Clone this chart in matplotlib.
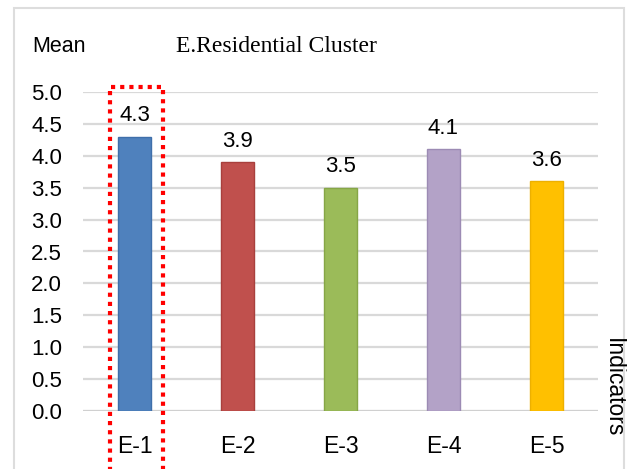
import numpy as np
import matplotlib.pyplot as plt
from matplotlib.patches import Rectangle

# Mean score per indicator of the residential cluster
indicators = ['E-1', 'E-2', 'E-3', 'E-4', 'E-5']
means = [4.3, 3.9, 3.5, 4.1, 3.6]
yticks = [0.0, 0.5, 1.0, 1.5, 2.0, 2.5, 3.0, 3.5, 4.0, 4.5, 5.0]

colors = ['#4F81BD', '#C0504D', '#9BBB59', '#B3A2C7', '#FFC000']
edges = ['#3F6FAA', '#A8403D', '#86A646', '#9C8BB4', '#EDB000']

plt.rcParams['font.family'] = ['Liberation Sans', 'DejaVu Sans']

fig = plt.figure(figsize=(6.27, 4.69), dpi=100)
ax = fig.add_axes([83 / 627, 1 - 411 / 469, 515 / 627, 319 / 469])

x = np.arange(len(indicators))
bars = ax.bar(x, means, width=0.32, color=colors, edgecolor=edges, linewidth=1.0, zorder=3)
for b, v in zip(bars, means):
    ax.annotate(f'{v:.1f}', (b.get_x() + b.get_width() / 2, v), xytext=(0, 11),
                textcoords='offset points', ha='center', va='baseline', fontsize=16)

ax.set_xlim(-0.5, len(indicators) - 0.5)
ax.set_ylim(0, 5)
ax.set_yticks(yticks)
ax.set_yticklabels([f'{t:.1f}' for t in yticks], fontsize=16)
ax.set_xticks(x)
ax.set_xticklabels(indicators, fontsize=16.5)
ax.tick_params(axis='both', length=0)
ax.tick_params(axis='y', pad=15)
ax.tick_params(axis='x', pad=17)
ax.grid(axis='y', color='#D9D9D9', linewidth=1.6, zorder=0)
ax.set_axisbelow(True)
for s in ax.spines.values():
    s.set_visible(False)
ax.axhline(0, color='#D0D0D0', linewidth=2.2, zorder=2)

# labels and title
fig.text(32 / 627, 1 - 47 / 469, 'Mean', fontsize=15.5, ha='left', va='center')
fig.text(276 / 627, 1 - 47 / 469, 'E.Residential Cluster', fontsize=17,
         family='Liberation Serif', ha='center', va='center')
fig.text(613 / 627, 1 - 388 / 469, 'Indicators', fontsize=16.5, rotation=-90,
         ha='center', va='center')

# outer frame of the chart
fig.patches.append(Rectangle((14 / 627, -0.05), 610 / 627, 1.05 - 8 / 469,
                             transform=fig.transFigure, fill=False,
                             edgecolor='#DDDDDD', linewidth=1.5))

# highlight around the first indicator
fig.patches.append(Rectangle((110 / 627, -0.05), 53 / 627, 1.05 - 87 / 469,
                             transform=fig.transFigure, fill=False,
                             edgecolor='#FF0000', linewidth=3, linestyle=(0, (1, 1.2))))

fig.savefig('out.png', dpi=100)
